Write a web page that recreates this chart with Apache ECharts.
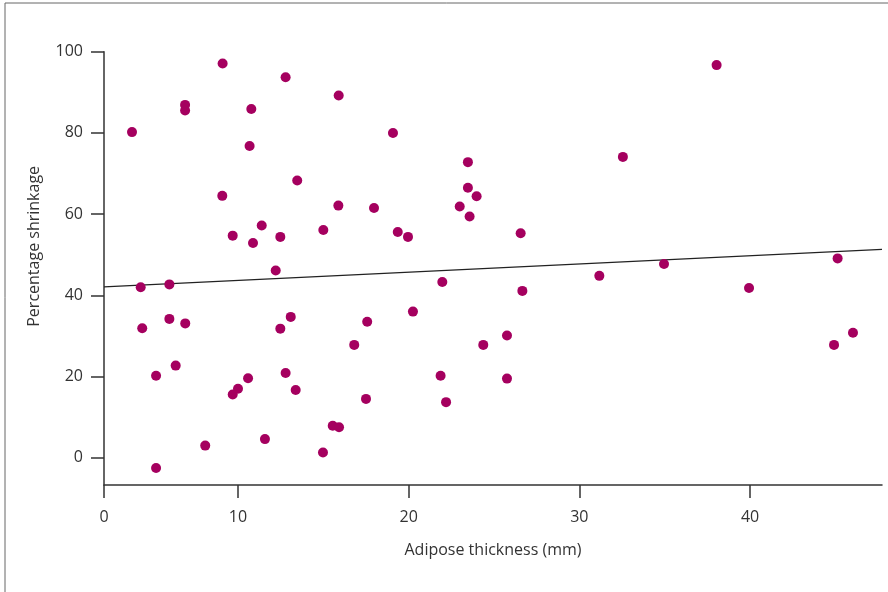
<!DOCTYPE html>
<html>
<head>
<meta charset="utf-8">
<script src="https://cdn.jsdelivr.net/npm/echarts@6/dist/echarts.min.js"></script>
<style>
html,body{margin:0;padding:0;background:#fff;}
#chart{width:888px;height:592px;}
</style>
</head>
<body>
<div id="chart"></div>
<script>
// Adipose thickness (mm)
var thickness = [9.10,12.79,6.90,6.90,10.78,3.79,10.68,13.47,9.08,11.39,9.69,12.48,10.88,
  12.21,4.30,5.98,5.98,4.39,6.91,12.48,13.09,6.35,5.20,12.79,13.38,10.59,10.00,9.69,11.58,8.08,5.20,
  15.90,19.08,23.47,23.47,23.98,15.88,17.97,22.99,23.57,15.00,19.36,19.96,
  21.97,17.57,20.25,24.37,16.81,21.87,17.50,22.19,15.55,15.92,14.98,
  38.04,32.55,26.56,34.96,45.13,26.66,31.17,39.94,25.76,25.76,44.92,46.03];
// Percentage shrinkage
var shrinkage = [97.1,93.7,86.9,85.5,85.9,80.2,76.8,68.3,64.5,57.2,54.7,54.4,52.9,
  46.1,42.0,42.7,34.2,31.9,33.1,31.8,34.7,22.7,20.2,20.9,16.7,19.6,17.0,15.6,4.6,3.0,-2.5,
  89.2,80.0,72.8,66.5,64.4,62.1,61.5,61.9,59.4,56.1,55.6,54.4,
  43.3,33.5,36.0,27.8,27.8,20.2,14.5,13.7,7.9,7.5,1.3,
  96.7,74.1,55.3,47.7,49.1,41.1,44.8,41.8,30.1,19.5,27.8,30.8];
// fitted line endpoints (x, y)
var fitX = [2.15, 47.73];
var fitY = [42.1, 51.3];
var xTicks = [2.15, 10, 20, 30, 40];
var xTickLabels = ['0', '10', '20', '30', '40'];
var yTicks = [0, 20, 40, 60, 80, 100];

var points = thickness.map(function (x, i) { return [x, shrinkage[i]]; });
var fitLine = fitX.map(function (x, i) { return [x, fitY[i]]; });

var font = '"Open Sans", "Noto Sans", sans-serif';
var chart = echarts.init(document.getElementById('chart'), null, {renderer: 'canvas'});
chart.setOption({
  animation: false,
  backgroundColor: '#fff',
  grid: {left: 104, right: 6, top: 51.7, bottom: 107},
  xAxis: {
    type: 'value',
    min: 2.15, max: 47.73,
    name: 'Adipose thickness (mm)',
    nameLocation: 'middle',
    nameGap: 57,
    nameTextStyle: {fontFamily: font, fontSize: 16, color: '#333'},
    axisLine: {show: true, onZero: false, lineStyle: {color: '#333', width: 1.5}},
    axisTick: {show: true, length: 13, customValues: xTicks, lineStyle: {color: '#333', width: 1.5}},
    axisLabel: {
      customValues: xTicks, margin: 24, fontFamily: font, fontSize: 16, color: '#333',
      formatter: function (v) {
        var idx = xTicks.indexOf(v);
        return idx >= 0 ? xTickLabels[idx] : '';
      }
    },
    splitLine: {show: false}
  },
  yAxis: {
    type: 'value',
    min: -6.7, max: 100,
    name: 'Percentage shrinkage',
    nameLocation: 'middle',
    nameGap: 62,
    nameTextStyle: {fontFamily: font, fontSize: 16, color: '#333', padding: [0, 0, 0, 44]},
    axisLine: {show: true, onZero: false, lineStyle: {color: '#333', width: 1.5}},
    axisTick: {show: true, length: 13, customValues: yTicks, lineStyle: {color: '#333', width: 1.5}},
    axisLabel: {customValues: yTicks, margin: 21, fontFamily: font, fontSize: 16, color: '#333'},
    splitLine: {show: false}
  },
  graphic: [{
    type: 'polyline',
    shape: {points: [[5, 592], [5, 3], [888, 3]]},
    style: {stroke: '#666', lineWidth: 1, fill: null},
    silent: true
  }],
  series: [{
    type: 'line',
    data: fitLine,
    symbol: 'none',
    lineStyle: {color: '#222', width: 1.3},
    z: 1
  }, {
    type: 'scatter',
    data: points,
    symbolSize: 10,
    itemStyle: {color: '#a5005f', opacity: 1},
    z: 2
  }]
});
</script>
</body>
</html>
